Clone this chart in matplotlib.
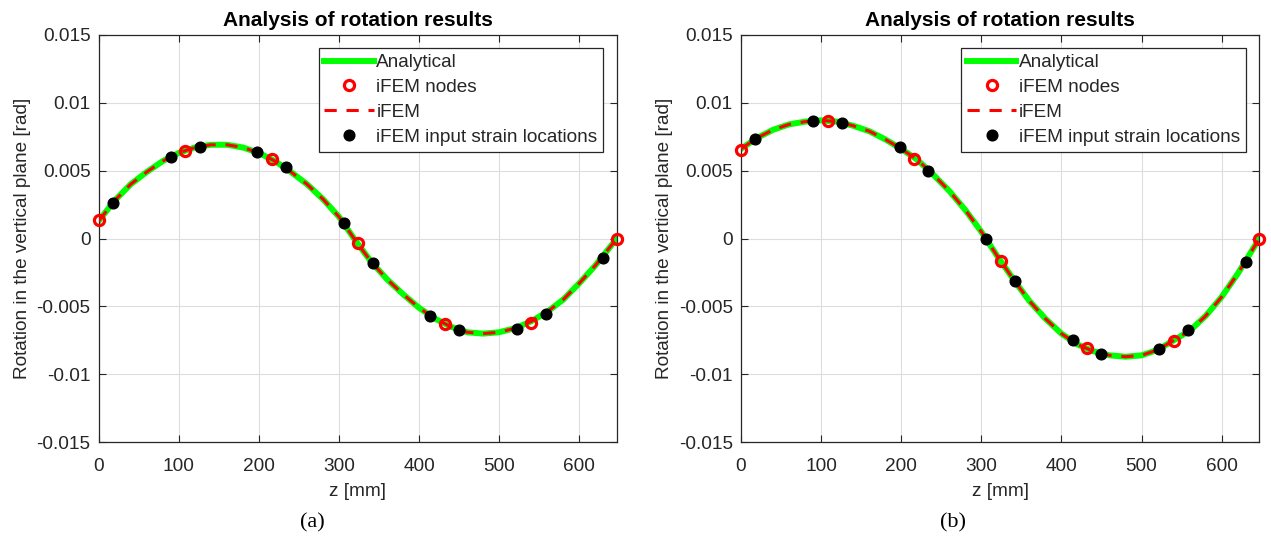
import matplotlib
matplotlib.use("Agg")
import matplotlib.pyplot as plt

plt.rcParams['font.family'] = ['Liberation Sans', 'DejaVu Sans']

# Analytical rotation curves, z in mm
z_curve = [0, 20, 40, 60, 80, 100, 120, 140, 160, 180, 200, 220, 240, 260, 280, 300,
           320, 340, 360, 380, 400, 420, 440, 460, 480, 500, 520, 540, 560, 580, 600,
           620, 647]
analytical_a = [0.0013, 0.0028, 0.0040, 0.0049, 0.0057, 0.0063, 0.0067, 0.0069, 0.0069,
                0.0067, 0.0063, 0.0057, 0.0049, 0.0040, 0.0029, 0.0016, -0.0001, -0.0017,
                -0.0030, -0.0041, -0.0051, -0.0059, -0.0065, -0.0069, -0.0070, -0.0069,
                -0.0066, -0.0061, -0.0054, -0.0045, -0.0033, -0.0020, 0.0]
analytical_b = [0.0066, 0.0074, 0.0080, 0.0084, 0.0086, 0.0087, 0.0086, 0.0083, 0.0079,
                0.0073, 0.0066, 0.0058, 0.0047, 0.0035, 0.0021, 0.0005, -0.0013, -0.0030,
                -0.0046, -0.0059, -0.0070, -0.0078, -0.0083, -0.0086, -0.0087, -0.0086,
                -0.0082, -0.0075, -0.0068, -0.0057, -0.0043, -0.0026, 0.0]

# iFEM dashed result (overlaps analytical)
ifem_a = analytical_a
ifem_b = analytical_b

# iFEM nodes
z_nodes = [0, 108, 216, 324, 432, 540, 647]
nodes_a = [0.00133, 0.00641, 0.00587, -0.00034, -0.00631, -0.00619, 0.0]
nodes_b = [0.00655, 0.00864, 0.00587, -0.00164, -0.00809, -0.00752, 0.0]

# iFEM input strain locations
z_strain = [18, 90, 126, 198, 234, 306, 342, 414, 450, 522, 558, 630]
strain_a = [0.0026, 0.00597, 0.00676, 0.00639, 0.00526, 0.00113, -0.00177, -0.00572,
            -0.0067, -0.00663, -0.00554, -0.00145]
strain_b = [0.00731, 0.00864, 0.00852, 0.00673, 0.00498, -0.00005, -0.00315, -0.00747,
            -0.00848, -0.00811, -0.00675, -0.00172]

panels = [
    (analytical_a, ifem_a, nodes_a, strain_a, '(a)', 0.2455, [0.0777, 0.1794, 0.4076, 0.7562]),
    (analytical_b, ifem_b, nodes_b, strain_b, '(b)', 0.7500, [0.5830, 0.1794, 0.4078, 0.7562]),
]

fig = plt.figure(figsize=(12.71, 5.39), dpi=100)
txt = '#262626'
fs = 13.7

for ana, ifem, nodes, strain, cap, cap_x, pos in panels:
    ax = fig.add_axes(pos)
    ax.plot(z_curve, ana, color='#00ff00', lw=4.3, label='Analytical', zorder=2)
    ax.plot(z_nodes, nodes, 'o', mfc='none', mec='red', mew=2.3, ms=7.3,
            label='iFEM nodes', zorder=4, clip_on=False)
    ax.plot(z_curve, ifem, '--', color='red', lw=2.2, dashes=(4, 3.2), label='iFEM', zorder=3)
    ax.plot(z_strain, strain, 'o', color='black', ms=7.7, label='iFEM input strain locations',
            zorder=5, clip_on=False)

    ax.set_xlim(0, 647)
    ax.set_ylim(-0.015, 0.015)
    ax.set_xticks([0, 100, 200, 300, 400, 500, 600])
    ax.set_yticks([-0.015, -0.01, -0.005, 0, 0.005, 0.01, 0.015])
    ax.set_yticklabels(['-0.015', '-0.01', '-0.005', '0', '0.005', '0.01', '0.015'])
    ax.tick_params(direction='in', top=True, right=True, labelsize=fs, colors=txt,
                   length=5, width=0.8, pad=6)
    ax.tick_params(axis='x', pad=11)
    ax.grid(True, color='#dddddd', lw=0.8)
    for s in ax.spines.values():
        s.set_color(txt)
        s.set_linewidth(0.9)

    ax.set_title('Analysis of rotation results', fontsize=15, fontweight='bold', pad=6)
    ax.set_xlabel('z [mm]', fontsize=fs, color=txt, labelpad=6)
    ax.set_ylabel('Rotation in the vertical plane [rad]', fontsize=fs, color=txt, labelpad=4)
    fig.text(cap_x, 0.0297, cap, ha='center', va='center',
             fontsize=16, family='Liberation Serif', color='black')

    leg = ax.legend(loc='upper right', bbox_to_anchor=(0.9735, 0.967), fontsize=fs,
                    handlelength=2.6, handletextpad=0.12, borderpad=0.3,
                    labelspacing=0.4, fancybox=False, framealpha=1,
                    edgecolor=txt, borderaxespad=0)
    leg.get_frame().set_linewidth(0.9)
    for t in leg.get_texts():
        t.set_color(txt)

fig.savefig('out.png', dpi=100)
